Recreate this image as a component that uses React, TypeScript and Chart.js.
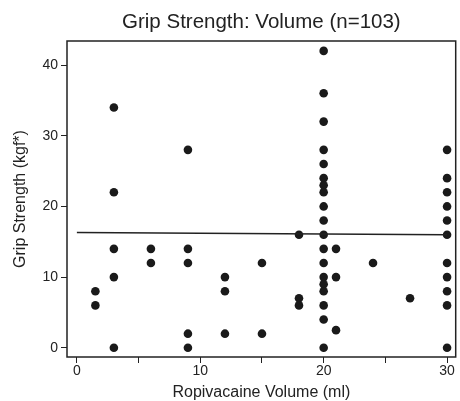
import React, { useEffect, useRef } from "react";
import { Chart, registerables } from "chart.js";

Chart.register(...registerables);

const titleText = "Grip Strength: Volume (n=103)";
const xTitle = "Ropivacaine Volume (ml)";
const yTitle = "Grip Strength (kgf*)";

const volumeX = [
  1.5, 1.5,
  3, 3, 3, 3, 3,
  6, 6,
  9, 9, 9, 9, 9,
  12, 12, 12,
  15, 15,
  18, 18, 18,
  20, 20, 20, 20, 20, 20, 20, 20, 20, 20, 20, 20, 20, 20, 20, 20, 20, 20, 20,
  21, 21, 21,
  24,
  27,
  30, 30, 30, 30, 30, 30, 30, 30, 30, 30, 30,
];
const gripY = [
  8, 6,
  34, 22, 14, 10, 0,
  14, 12,
  28, 14, 12, 2, 0,
  10, 8, 2,
  12, 2,
  16, 7, 6,
  42, 36, 32, 28, 26, 24, 23, 22, 20, 18, 16, 14, 12, 10, 9, 8, 6, 4, 0,
  14, 10, 2.5,
  12,
  7,
  28, 24, 22, 20, 18, 16, 12, 10, 8, 6, 0,
];
const fitX = [0, 30];
const fitY = [16.3, 16.0];
const xTickLabels = [0, 10, 20, 30];
const yTickLabels = [0, 10, 20, 30, 40];

const INK = "#222222";
const FONT = "'Liberation Sans', Arial, Helvetica, sans-serif";

const boxPlugin = {
  id: "boxPlugin",
  beforeDatasetsDraw(chart: any) {
    const { ctx, chartArea } = chart;
    ctx.save();
    ctx.strokeStyle = INK;
    ctx.lineWidth = 1.5;
    ctx.strokeRect(chartArea.left, chartArea.top, chartArea.right - chartArea.left, chartArea.bottom - chartArea.top);
    ctx.restore();
  },
};

export default function App() {
  const ref = useRef<HTMLCanvasElement | null>(null);
  useEffect(() => {
    if (!ref.current) return;
    const scatterData = volumeX.map((x, i) => ({ x, y: gripY[i] }));
    const fitData = fitX.map((x, i) => ({ x, y: fitY[i] }));
    const chart = new Chart(ref.current, {
      type: "scatter",
      data: {
        datasets: [
          {
            type: "line",
            data: fitData,
            borderColor: INK,
            borderWidth: 1.5,
            pointRadius: 0,
            fill: false,
          } as any,
          {
            data: scatterData,
            backgroundColor: "#1a1a1a",
            borderColor: "#1a1a1a",
            pointRadius: 4.3,
            borderWidth: 0,
          },
        ],
      },
      plugins: [boxPlugin],
      options: {
        animation: false,
        responsive: false,
        layout: { padding: { left: 0, right: 2, top: 0, bottom: 0 } },
        plugins: {
          legend: { display: false },
          tooltip: { enabled: false },
          title: {
            display: true,
            text: titleText,
            fullSize: false,
            color: INK,
            font: { family: FONT, size: 20.5, weight: "normal", lineHeight: 1.2 },
            padding: { top: 10, bottom: 6.4 },
          },
        },
        scales: {
          x: {
            type: "linear",
            min: -0.8,
            max: 30.7,
            border: { display: false },
            grid: { display: true, drawOnChartArea: false, drawTicks: true, tickLength: 6, color: INK, lineWidth: 1 },
            ticks: {
              stepSize: 5,
              includeBounds: false,
              autoSkip: false,
              maxRotation: 0,
              padding: 0,
              color: INK,
              font: { family: FONT, size: 14 },
              callback: (v: any) => (xTickLabels.includes(Number(v)) ? String(v) : ""),
            },
            title: {
              display: true,
              text: xTitle,
              color: INK,
              font: { family: FONT, size: 16, lineHeight: 1 },
              padding: { top: 0, bottom: 0 },
            },
            afterFit: (s: any) => {
              s.height = 44;
            },
          },
          y: {
            type: "linear",
            min: -1.3,
            max: 43.4,
            border: { display: false },
            grid: { display: true, drawOnChartArea: false, drawTicks: true, tickLength: 6, color: INK, lineWidth: 1 },
            ticks: {
              stepSize: 10,
              includeBounds: false,
              autoSkip: false,
              padding: 3,
              color: INK,
              font: { family: FONT, size: 14 },
              callback: (v: any) => (yTickLabels.includes(Number(v)) ? String(v) : ""),
            },
            title: {
              display: true,
              text: yTitle,
              color: INK,
              font: { family: FONT, size: 16, lineHeight: 1.2 },
              padding: { top: 10.5, bottom: 0 },
            },
            afterFit: (s: any) => {
              s.width = 67;
            },
          },
        },
      },
    });
    return () => chart.destroy();
  }, []);
  return (
    <div style={{ position: "fixed", left: 0, top: 0, width: 460, height: 401, background: "#fff" }}>
      <canvas ref={ref} width={460} height={401} style={{ display: "block", width: 460, height: 401 }} />
    </div>
  );
}
